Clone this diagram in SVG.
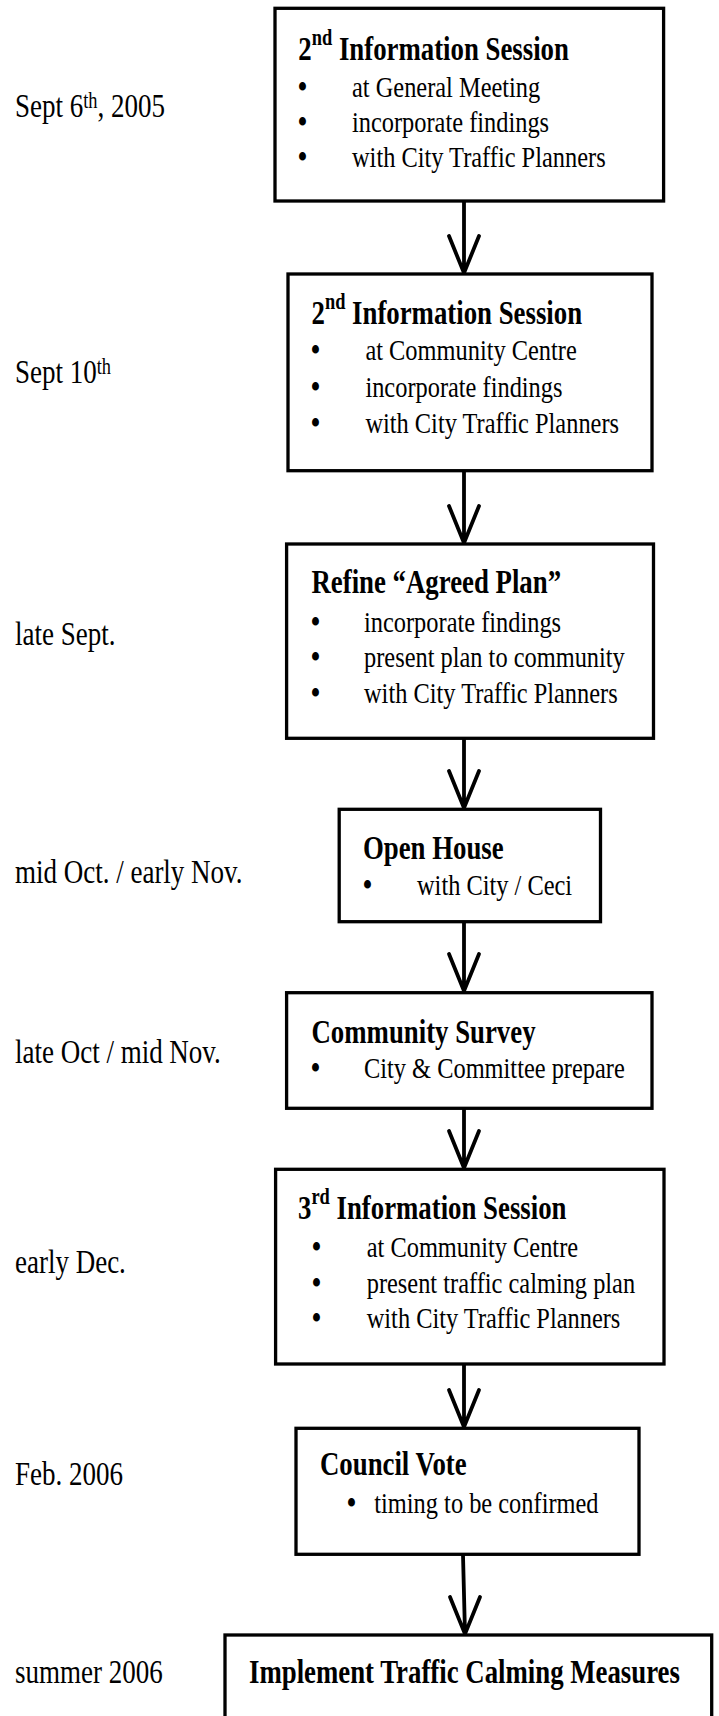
<svg xmlns="http://www.w3.org/2000/svg" width="719" height="1716" viewBox="0 0 719 1716">
<style>
.box{fill:#fff;stroke:#000;stroke-width:3.3}
.t{font-family:"Liberation Serif","Times New Roman",serif;fill:#000}
.lbl{font-size:33.75px}
.ttl{font-size:33.5px;font-weight:bold}
.body{font-size:30.5px}
.bul{font-size:32px;font-weight:bold}
.sup{font-size:23px}
.arr{fill:none;stroke:#000;stroke-width:3.8;stroke-linecap:round;stroke-linejoin:miter}
</style>
<rect width="719" height="1716" fill="#fff"/>
<g id="labels" transform="scale(0.8,1)">
<text class="t lbl" x="18.75" y="116.7">Sept 6<tspan class="sup" dy="-9">th</tspan><tspan dy="9">, 2005</tspan></text>
<text class="t lbl" x="18.75" y="383.3">Sept 10<tspan class="sup" dy="-9">th</tspan></text>
<text class="t lbl" x="18.75" y="645">late Sept.</text>
<text class="t lbl" x="18.75" y="882.7">mid Oct. / early Nov.</text>
<text class="t lbl" x="18.75" y="1063.3">late Oct / mid Nov.</text>
<text class="t lbl" x="18.75" y="1272.7">early Dec.</text>
<text class="t lbl" x="18.75" y="1485">Feb. 2006</text>
<text class="t lbl" x="18.75" y="1683">summer 2006</text>
</g>
<g id="connectors">
<path class="arr" d="M464 202 L464 273 M449 236 L464 273 L479 236"/>
<path class="arr" d="M464 471 L464 543 M449 506 L464 543 L479 506"/>
<path class="arr" d="M464 739 L464 808 M449 771 L464 808 L479 771"/>
<path class="arr" d="M464 922 L464 991 M449 954 L464 991 L479 954"/>
<path class="arr" d="M464 1109 L464 1168 M449 1131 L464 1168 L479 1131"/>
<path class="arr" d="M464 1365 L464 1427 M449 1390 L464 1427 L479 1390"/>
<path class="arr" d="M463 1555 L465 1634 M450 1597 L465 1634 L480 1597"/>
</g>
<g id="n1">
<rect class="box" x="275" y="8.3" width="388.6" height="192.7"/>
<g transform="scale(0.8,1)">
<text class="t ttl" x="372.9" y="60">2<tspan class="sup" dy="-15">nd</tspan><tspan dy="15"> Information Session</tspan></text>
<text class="t body" y="96.7"><tspan class="bul" x="372.5">•</tspan><tspan x="440">at General Meeting</tspan></text>
<text class="t body" y="131.7"><tspan class="bul" x="372.5">•</tspan><tspan x="440">incorporate findings</tspan></text>
<text class="t body" y="166.7"><tspan class="bul" x="372.5">•</tspan><tspan x="440">with City Traffic Planners</tspan></text>
</g>
</g>
<g id="n2">
<rect class="box" x="288" y="274" width="364" height="196.7"/>
<g transform="scale(0.8,1)">
<text class="t ttl" x="389.4" y="324">2<tspan class="sup" dy="-15">nd</tspan><tspan dy="15"> Information Session</tspan></text>
<text class="t body" y="360"><tspan class="bul" x="388.75">•</tspan><tspan x="456.75">at Community Centre</tspan></text>
<text class="t body" y="396.7"><tspan class="bul" x="388.75">•</tspan><tspan x="456.75">incorporate findings</tspan></text>
<text class="t body" y="432.7"><tspan class="bul" x="388.75">•</tspan><tspan x="456.75">with City Traffic Planners</tspan></text>
</g>
</g>
<g id="n3">
<rect class="box" x="286.6" y="544" width="366.9" height="194.3"/>
<g transform="scale(0.8,1)">
<text class="t ttl" x="389.4" y="593.3">Refine “Agreed Plan”</text>
<text class="t body" y="631.7"><tspan class="bul" x="388.75">•</tspan><tspan x="455">incorporate findings</tspan></text>
<text class="t body" y="667.3"><tspan class="bul" x="388.75">•</tspan><tspan x="455">present plan to community</tspan></text>
<text class="t body" y="702.7"><tspan class="bul" x="388.75">•</tspan><tspan x="455">with City Traffic Planners</tspan></text>
</g>
</g>
<g id="n4">
<rect class="box" x="339.2" y="809.3" width="261.3" height="112.4"/>
<g transform="scale(0.8,1)">
<text class="t ttl" x="453.75" y="859.3">Open House</text>
<text class="t body" y="895"><tspan class="bul" x="453.75">•</tspan><tspan x="521.25">with City / Ceci</tspan></text>
</g>
</g>
<g id="n5">
<rect class="box" x="286.6" y="992.7" width="365.4" height="115.6"/>
<g transform="scale(0.8,1)">
<text class="t ttl" x="389.4" y="1043.3">Community Survey</text>
<text class="t body" y="1078"><tspan class="bul" x="388.75">•</tspan><tspan x="455">City &amp; Committee prepare</tspan></text>
</g>
</g>
<g id="n6">
<rect class="box" x="275.6" y="1169.3" width="388.4" height="194.7"/>
<g transform="scale(0.8,1)">
<text class="t ttl" x="372.5" y="1219">3<tspan class="sup" dy="-15">rd</tspan><tspan dy="15"> Information Session</tspan></text>
<text class="t body" y="1257"><tspan class="bul" x="390">•</tspan><tspan x="458.4">at Community Centre</tspan></text>
<text class="t body" y="1293.3"><tspan class="bul" x="390">•</tspan><tspan x="458.4">present traffic calming plan</tspan></text>
<text class="t body" y="1327.7"><tspan class="bul" x="390">•</tspan><tspan x="458.4">with City Traffic Planners</tspan></text>
</g>
</g>
<g id="n7">
<rect class="box" x="296" y="1428.3" width="343" height="126"/>
<g transform="scale(0.8,1)">
<text class="t ttl" x="400" y="1475.5">Council Vote</text>
<text class="t body" y="1513.3"><tspan class="bul" x="433.75">•</tspan><tspan x="467.9">timing to be confirmed</tspan></text>
</g>
</g>
<g id="n8">
<rect class="box" x="225" y="1635" width="486.7" height="130"/>
<g transform="scale(0.8,1)">
<text class="t ttl" x="311.25" y="1683">Implement Traffic Calming Measures</text>
</g>
</g>
</svg>
